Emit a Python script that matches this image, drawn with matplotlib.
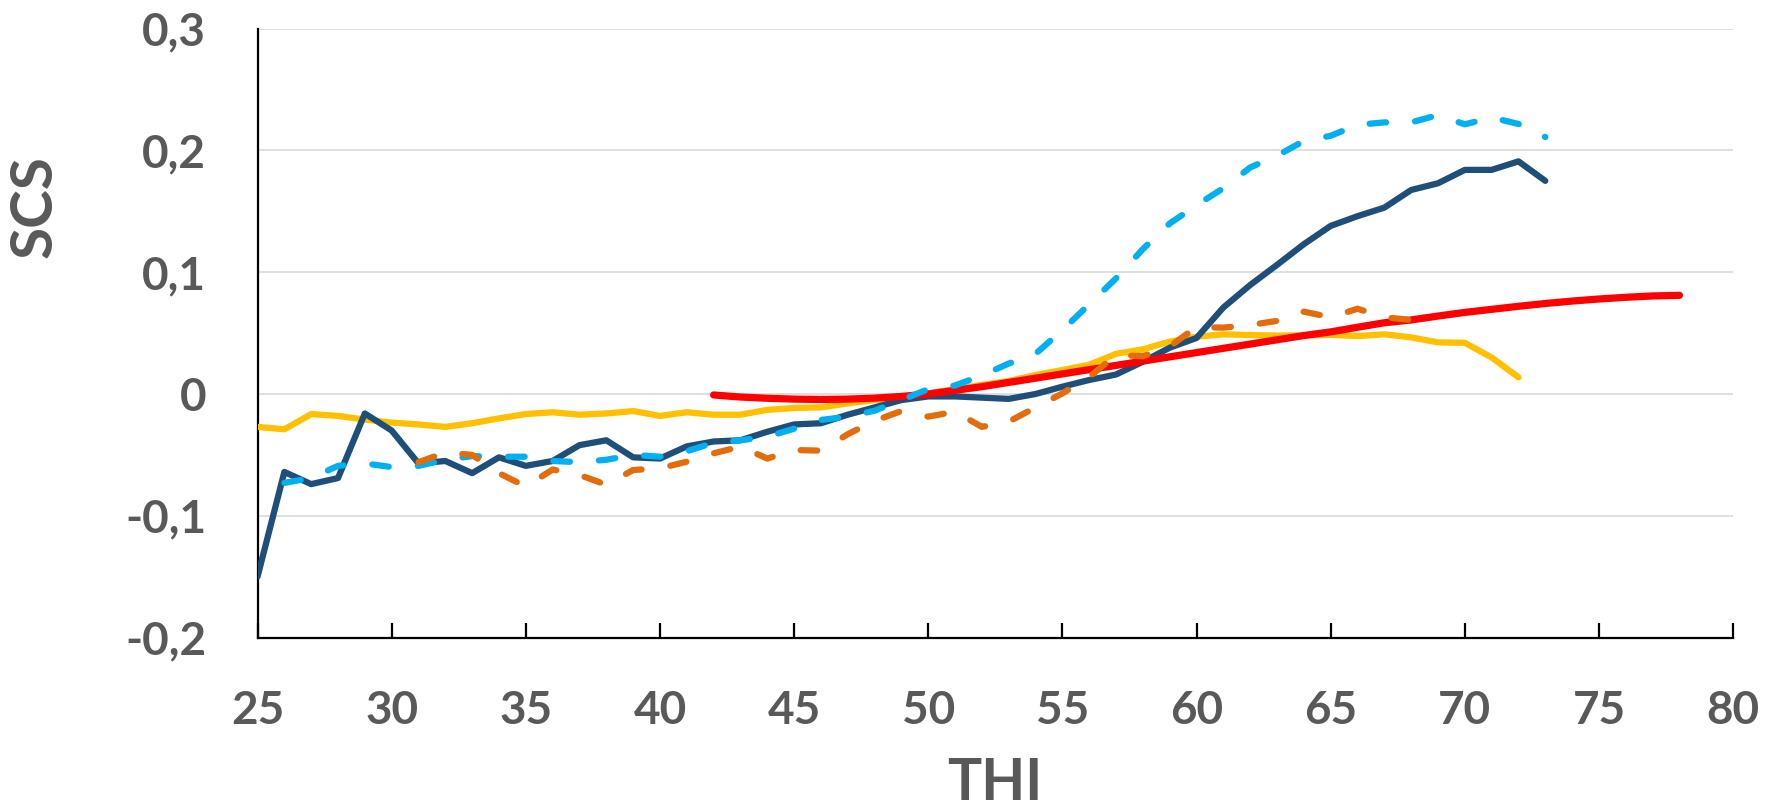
import numpy as np
import matplotlib
matplotlib.use("Agg")
import matplotlib.pyplot as plt
from matplotlib.ticker import FuncFormatter, MultipleLocator

# THI values per series
thi_dark = list(range(25, 74))
scs_dark = [-0.150, -0.064, -0.074, -0.069, -0.016, -0.030, -0.057, -0.055, -0.065, -0.052,
            -0.059, -0.055, -0.042, -0.038, -0.052, -0.053, -0.043, -0.039, -0.038, -0.031,
            -0.025, -0.024, -0.017, -0.011, -0.005, -0.002, -0.002, -0.003, -0.004, 0.000,
            0.006, 0.0115, 0.016, 0.0265, 0.038, 0.046, 0.071, 0.0895, 0.106, 0.123,
            0.138, 0.146, 0.153, 0.1675, 0.173, 0.184, 0.184, 0.191, 0.175]

thi_light = list(range(26, 74))
scs_light = [-0.073, -0.069, -0.059, -0.057, -0.060, -0.059, -0.054, -0.051, -0.0515, -0.0515,
             -0.055, -0.056, -0.054, -0.050, -0.0515, -0.047, -0.040, -0.038, -0.035, -0.0285,
             -0.0213, -0.0186, -0.0137, -0.005, 0.004, 0.007, 0.0152, 0.025, 0.033, 0.0525,
             0.0736, 0.095, 0.119, 0.140, 0.155, 0.169, 0.186, 0.1957, 0.2077, 0.212,
             0.221, 0.223, 0.223, 0.229, 0.2214, 0.227, 0.2217, 0.211]

thi_orange = list(range(31, 69))
scs_orange = [-0.056, -0.048, -0.050, -0.065, -0.076, -0.062, -0.0665, -0.0745, -0.0624, -0.061,
              -0.0556, -0.0487, -0.0432, -0.053, -0.046, -0.0465, -0.033, -0.022, -0.014, -0.0186,
              -0.0145, -0.027, -0.0227, -0.011, 0.0005, 0.014, 0.032, 0.031, 0.039, 0.055,
              0.0545, 0.0567, 0.060, 0.0676, 0.063, 0.070, 0.063, 0.0608]

thi_yellow = list(range(25, 73))
scs_yellow = [-0.027, -0.029, -0.0165, -0.018, -0.021, -0.0235, -0.025, -0.027, -0.024, -0.020,
              -0.0165, -0.015, -0.017, -0.016, -0.014, -0.018, -0.015, -0.017, -0.017, -0.013,
              -0.0115, -0.011, -0.0077, -0.005, -0.0035, 0.0005, 0.004, 0.0075, 0.0107, 0.0156,
              0.0197, 0.024, 0.033, 0.0367, 0.043, 0.047, 0.049, 0.0484, 0.048, 0.048,
              0.0485, 0.0476, 0.049, 0.0465, 0.0424, 0.042, 0.030, 0.0137]

thi_red = list(range(42, 79))
scs_red = [-0.0008, -0.0025, -0.0035, -0.0042, -0.0045, -0.0042, -0.0034, -0.002, 0.000, 0.003,
           0.006, 0.0095, 0.013, 0.0165, 0.020, 0.0235, 0.027, 0.0305, 0.034, 0.0375,
           0.041, 0.0445, 0.048, 0.051, 0.0548, 0.0585, 0.0608, 0.064, 0.067, 0.0695,
           0.072, 0.0743, 0.0763, 0.078, 0.0794, 0.0805, 0.081]

x_ticks = list(range(25, 81, 5))
y_ticks = [-0.2, -0.1, 0.0, 0.1, 0.2, 0.3]

plt.rcParams['font.family'] = ['Lato', 'DejaVu Sans']
grey = '#595959'

fig = plt.figure(figsize=(17.81, 8.08), dpi=100)
ax = fig.add_axes([0.1446, 0.2109, 0.8285, 0.7537])

lw = 4.5
dash = (2.65, 4.65)
ax.plot(thi_yellow, scs_yellow, color='#FFC000', lw=lw, solid_capstyle='round',
        solid_joinstyle='round', zorder=3)
ax.plot(thi_dark, scs_dark, color='#1F4E79', lw=lw, solid_capstyle='round',
        solid_joinstyle='round', zorder=4)
ax.plot(thi_red, scs_red, color='#FF0000', lw=5.2, solid_capstyle='round',
        solid_joinstyle='round', zorder=5)
ax.plot(thi_light, scs_light, color='#00B0F0', lw=lw, dashes=dash,
        dash_capstyle='round', dash_joinstyle='round', zorder=6)
ax.plot(thi_orange, scs_orange, color='#E46C0A', lw=lw, dashes=dash,
        dash_capstyle='round', dash_joinstyle='round', zorder=7)

ax.set_xlim(25, 80)
ax.set_ylim(-0.2, 0.3)
ax.set_xticks(x_ticks)
ax.set_yticks(y_ticks)
ax.yaxis.set_major_formatter(FuncFormatter(
    lambda v, p: '0' if abs(v) < 1e-9 else ('%.1f' % v).replace('.', ',')))

ax.grid(axis='y', color='#D9D9D9', lw=1.2, zorder=0)
ax.set_axisbelow(True)
for s in ['top', 'right']:
    ax.spines[s].set_visible(False)
for s in ['left', 'bottom']:
    ax.spines[s].set_color('black')
    ax.spines[s].set_linewidth(1.6)

ax.tick_params(axis='x', direction='in', length=11, width=1.6, color='black',
               pad=38, labelsize=33, labelcolor=grey)
ax.tick_params(axis='y', length=0, pad=37, labelsize=33, labelcolor=grey)
for lab in ax.get_xticklabels() + ax.get_yticklabels():
    lab.set_fontweight('bold')

fig.text(35 / 1781, 1 - 207 / 808, 'SCS', rotation=90, ha='center', va='center',
         fontsize=42, fontweight='bold', color=grey)
fig.text(995 / 1781, 1 - 784 / 808, 'THI', ha='center', va='center',
         fontsize=41, fontweight='bold', color=grey)

fig.savefig('out.png', dpi=100)
